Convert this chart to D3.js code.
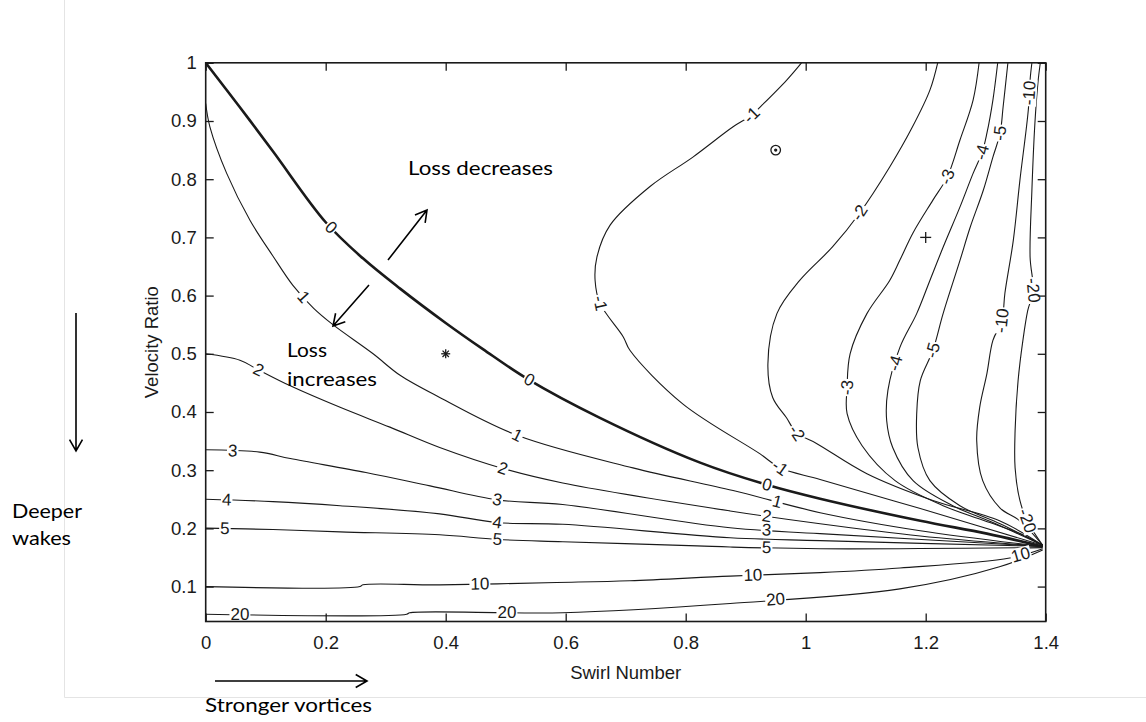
<!DOCTYPE html>
<html>
<head>
<meta charset="utf-8">
<script src="https://cdn.jsdelivr.net/npm/d3@7"></script>
<style>
  body { margin: 0; background: #fff; }
  svg { display: block; }
</style>
</head>
<body>
<svg id="chart" width="1146" height="722"></svg>
<script>
// ---- axis ticks ----
const xTicks = [0, 0.2, 0.4, 0.6, 0.8, 1, 1.2, 1.4];
const xTickLabels = ["0", "0.2", "0.4", "0.6", "0.8", "1", "1.2", "1.4"];
const yTicks = [0.1, 0.2, 0.3, 0.4, 0.5, 0.6, 0.7, 0.8, 0.9, 1];
const yTickLabels = ["0.1", "0.2", "0.3", "0.4", "0.5", "0.6", "0.7", "0.8", "0.9", "1"];

// ---- contour lines: [swirl number, velocity ratio] ----
const lossM20 = [[1.391,1.000],[1.387,0.965],[1.382,0.896],[1.377,0.781],[1.374,0.666],[1.379,0.609],[1.370,0.574],[1.362,0.523],[1.354,0.454],[1.349,0.368],[1.349,0.304],[1.357,0.248],[1.369,0.213],[1.395,0.171]];
const lossM10 = [[1.377,1.000],[1.374,0.971],[1.371,0.919],[1.357,0.798],[1.346,0.695],[1.332,0.604],[1.327,0.557],[1.312,0.523],[1.302,0.466],[1.290,0.408],[1.285,0.351],[1.295,0.282],[1.324,0.235],[1.357,0.213],[1.395,0.171]];
const lossM5 = [[1.337,1.000],[1.329,0.924],[1.324,0.879],[1.312,0.838],[1.296,0.781],[1.274,0.717],[1.257,0.660],[1.229,0.569],[1.212,0.506],[1.191,0.454],[1.185,0.397],[1.187,0.339],[1.207,0.282],[1.257,0.239],[1.324,0.208],[1.395,0.171]];
const lossM4 = [[1.320,1.000],[1.312,0.936],[1.302,0.879],[1.294,0.846],[1.279,0.810],[1.257,0.752],[1.229,0.683],[1.207,0.626],[1.185,0.569],[1.157,0.511],[1.137,0.437],[1.135,0.385],[1.145,0.339],[1.179,0.282],[1.245,0.239],[1.312,0.210],[1.395,0.171]];
const lossM3 = [[1.289,1.000],[1.279,0.936],[1.257,0.867],[1.236,0.804],[1.212,0.764],[1.179,0.708],[1.157,0.661],[1.140,0.626],[1.102,0.569],[1.074,0.500],[1.069,0.442],[1.069,0.397],[1.094,0.342],[1.149,0.282],[1.229,0.239],[1.307,0.210],[1.357,0.191],[1.395,0.171]];
const lossM2 = [[1.220,1.000],[1.207,0.953],[1.178,0.890],[1.140,0.821],[1.090,0.742],[1.045,0.684],[0.990,0.626],[0.952,0.569],[0.937,0.483],[0.945,0.425],[0.968,0.390],[0.985,0.364],[1.018,0.346],[1.102,0.294],[1.212,0.248],[1.323,0.213],[1.395,0.171]];
const lossM1 = [[0.993,1.000],[0.968,0.970],[0.924,0.924],[0.910,0.910],[0.879,0.890],[0.812,0.838],[0.740,0.787],[0.674,0.721],[0.652,0.666],[0.649,0.626],[0.657,0.587],[0.696,0.529],[0.707,0.506],[0.795,0.414],[0.924,0.328],[0.957,0.304],[1.024,0.284],[1.191,0.234],[1.395,0.171]];
const loss0 = [[0.000,1.000],[0.056,0.925],[0.112,0.848],[0.200,0.726],[0.262,0.664],[0.324,0.612],[0.400,0.553],[0.462,0.508],[0.536,0.457],[0.657,0.390],[0.824,0.313],[0.935,0.275],[1.024,0.251],[1.191,0.213],[1.302,0.191],[1.395,0.169]];
const loss1 = [[0.000,0.930],[0.007,0.890],[0.035,0.810],[0.074,0.729],[0.112,0.668],[0.145,0.618],[0.180,0.578],[0.212,0.550],[0.279,0.500],[0.324,0.463],[0.390,0.425],[0.519,0.360],[0.712,0.304],[0.879,0.265],[1.024,0.227],[1.191,0.196],[1.395,0.169]];
const loss2 = [[0.000,0.500],[0.057,0.489],[0.085,0.474],[0.141,0.445],[0.224,0.408],[0.307,0.374],[0.390,0.339],[0.495,0.303],[0.595,0.278],[0.874,0.230],[1.024,0.208],[1.191,0.187],[1.395,0.169]];
const loss3 = [[0.000,0.335],[0.090,0.331],[0.141,0.320],[0.267,0.296],[0.374,0.273],[0.486,0.249],[0.595,0.241],[0.874,0.201],[1.024,0.191],[1.395,0.169]];
const loss4 = [[0.000,0.250],[0.112,0.246],[0.224,0.239],[0.390,0.225],[0.486,0.210],[0.595,0.207],[0.874,0.184],[1.024,0.179],[1.395,0.169]];
const loss5 = [[0.000,0.2005],[0.112,0.198],[0.224,0.194],[0.390,0.189],[0.486,0.181],[0.595,0.177],[0.819,0.170],[0.874,0.168],[1.024,0.165],[1.395,0.167]];
const loss10 = [[0.000,0.100],[0.257,0.100],[0.262,0.103],[0.390,0.103],[0.585,0.107],[0.707,0.110],[0.874,0.118],[1.024,0.124],[1.157,0.132],[1.340,0.149],[1.395,0.165]];
const loss20 = [[0.000,0.0525],[0.335,0.0525],[0.340,0.055],[0.595,0.055],[0.874,0.071],[1.157,0.096],[1.323,0.134],[1.395,0.163]];

// ---- contour label anchors: [swirl number, velocity ratio] ----
const labelsM20 = [[1.379,0.609],[1.369,0.213]];
const labelsM10 = [[1.374,0.948],[1.327,0.557]];
const labelsM5 = [[1.324,0.879],[1.212,0.506]];
const labelsM4 = [[1.294,0.846],[1.152,0.483]];
const labelsM3 = [[1.236,0.804],[1.069,0.442]];
const labelsM2 = [[1.090,0.742],[0.985,0.364]];
const labelsM1 = [[0.910,0.910],[0.657,0.587],[0.957,0.304]];
const labels0 = [[0.208,0.716],[0.536,0.449],[0.935,0.273]];
const labels1 = [[0.157,0.592],[0.519,0.360],[0.949,0.232]];
const labels2 = [[0.085,0.466],[0.495,0.303],[0.935,0.222]];
const labels3 = [[0.045,0.333],[0.486,0.249],[0.935,0.199]];
const labels4 = [[0.035,0.248],[0.486,0.210]];
const labels5 = [[0.032,0.199],[0.486,0.181],[0.935,0.167]];
const labels10 = [[0.457,0.102],[0.912,0.119],[1.359,0.152]];
const labels20 = [[0.057,0.0525],[0.502,0.055],[0.950,0.076]];

const contourSet = [
  { level: -20, pts: lossM20, labels: labelsM20 },
  { level: -10, pts: lossM10, labels: labelsM10 },
  { level: -5, pts: lossM5, labels: labelsM5 },
  { level: -4, pts: lossM4, labels: labelsM4 },
  { level: -3, pts: lossM3, labels: labelsM3 },
  { level: -2, pts: lossM2, labels: labelsM2 },
  { level: -1, pts: lossM1, labels: labelsM1 },
  { level: 0, pts: loss0, labels: labels0 },
  { level: 1, pts: loss1, labels: labels1 },
  { level: 2, pts: loss2, labels: labels2 },
  { level: 3, pts: loss3, labels: labels3 },
  { level: 4, pts: loss4, labels: labels4 },
  { level: 5, pts: loss5, labels: labels5 },
  { level: 10, pts: loss10, labels: labels10 },
  { level: 20, pts: loss20, labels: labels20 }
];

// ---- marked design points ----
const markerPoints = [
  { s: 0.40, v: 0.50, kind: "star" },
  { s: 0.95, v: 0.85, kind: "circle" },
  { s: 1.20, v: 0.70, kind: "plus" }
];

// ---- annotation texts ----
const annotationTexts = [
  { text: "Loss decreases", x: 408, y: 175, w: 145 },
  { text: "Loss", x: 287, y: 357, w: 40 },
  { text: "increases", x: 287, y: 386, w: 90 },
  { text: "Deeper", x: 12, y: 518, w: 70 },
  { text: "wakes", x: 12, y: 545, w: 59 },
  { text: "Stronger vortices", x: 205, y: 712, w: 167 }
];
const annotationArrows = [
  { x1: 388, y1: 260, x2: 427, y2: 210 },
  { x1: 369, y1: 285, x2: 333, y2: 326 },
  { x1: 76, y1: 313, x2: 76, y2: 451 },
  { x1: 215, y1: 681, x2: 367, y2: 681 }
];

const svg = d3.select("#chart");
const W = 1146, H = 722;
const plot = { left: 205.7, right: 1045.7, top: 62.8, bottom: 621.5 };

const x = d3.scaleLinear().domain([0, 1.4]).range([plot.left, plot.right]);
const y = d3.scaleLinear().domain([0.04, 1]).range([plot.bottom, plot.top]);

svg.append("rect").attr("width", W).attr("height", H).attr("fill", "#fff");

// faint frame of the surrounding figure
svg.append("line").attr("x1", 64.5).attr("x2", 64.5).attr("y1", 0).attr("y2", 697.5)
  .attr("stroke", "#e4e4e4").attr("stroke-width", 1);
svg.append("line").attr("x1", 64.5).attr("x2", W).attr("y1", 697.5).attr("y2", 697.5)
  .attr("stroke", "#e4e4e4").attr("stroke-width", 1);

const axisFont = "'Liberation Sans', Arial, Helvetica, sans-serif";
const noteFont = "Lato, 'Open Sans', sans-serif";

// clip for contour lines
svg.append("clipPath").attr("id", "plotClip")
  .append("rect")
  .attr("x", plot.left).attr("y", plot.top)
  .attr("width", plot.right - plot.left).attr("height", plot.bottom - plot.top);

const lineGen = d3.line()
  .x(d => x(d[0]))
  .y(d => y(d[1]))
  .curve(d3.curveCatmullRom.alpha(0.5));

const gContours = svg.append("g").attr("clip-path", "url(#plotClip)");
gContours.selectAll("path")
  .data(contourSet)
  .join("path")
  .attr("d", d => lineGen(d.pts))
  .attr("fill", "none")
  .attr("stroke", "#1a1a1a")
  .attr("stroke-width", d => d.level === 0 ? 2.6 : 1.1)
  .attr("stroke-linejoin", "round");

// contour labels, placed along the nearest segment of their line
function placeOnLine(pts, anchor) {
  const px = pts.map(p => [x(p[0]), y(p[1])]);
  const ax = x(anchor[0]), ay = y(anchor[1]);
  let best = null;
  for (let i = 0; i < px.length - 1; i++) {
    const [x1, y1] = px[i], [x2, y2] = px[i + 1];
    const dx = x2 - x1, dy = y2 - y1;
    const L2 = dx * dx + dy * dy || 1;
    let t = ((ax - x1) * dx + (ay - y1) * dy) / L2;
    t = Math.max(0, Math.min(1, t));
    const qx = x1 + t * dx, qy = y1 + t * dy;
    const dist = Math.hypot(ax - qx, ay - qy);
    if (!best || dist < best.dist) {
      let ang = Math.atan2(dy, dx) * 180 / Math.PI;
      if (ang > 90) ang -= 180;
      if (ang < -90) ang += 180;
      best = { x: qx, y: qy, ang, dist };
    }
  }
  return best;
}

const labelData = [];
contourSet.forEach(c => {
  c.labels.forEach(a => {
    const p = placeOnLine(c.pts, a);
    labelData.push({ text: String(c.level), x: p.x, y: p.y, ang: p.ang });
  });
});

const gLabels = svg.append("g");
labelData.forEach(d => {
  const g = gLabels.append("g")
    .attr("transform", `translate(${d.x},${d.y}) rotate(${d.ang})`);
  const t = g.append("text")
    .attr("text-anchor", "middle")
    .attr("dominant-baseline", "central")
    .attr("font-family", axisFont)
    .attr("font-size", 17)
    .attr("fill", "#1a1a1a")
    .text(d.text);
  const bb = t.node().getBBox();
  g.insert("rect", "text")
    .attr("x", bb.x - 1).attr("y", bb.y + 2)
    .attr("width", bb.width + 2).attr("height", bb.height - 4)
    .attr("fill", "#fff");
});

// markers
const gMarks = svg.append("g").attr("stroke", "#1a1a1a").attr("fill", "none").attr("stroke-width", 1.3);
markerPoints.forEach(m => {
  const cx = x(m.s), cy = y(m.v);
  if (m.kind === "star") {
    const r = 4.5;
    [0, 45, 90, 135].forEach(a => {
      const rad = a * Math.PI / 180;
      gMarks.append("line")
        .attr("x1", cx - r * Math.cos(rad)).attr("y1", cy - r * Math.sin(rad))
        .attr("x2", cx + r * Math.cos(rad)).attr("y2", cy + r * Math.sin(rad));
    });
  } else if (m.kind === "circle") {
    gMarks.append("circle").attr("cx", cx).attr("cy", cy).attr("r", 4.8);
    gMarks.append("circle").attr("cx", cx).attr("cy", cy).attr("r", 1).attr("fill", "#1a1a1a");
  } else {
    const r = 5.5;
    gMarks.append("line").attr("x1", cx - r).attr("x2", cx + r).attr("y1", cy).attr("y2", cy);
    gMarks.append("line").attr("x1", cx).attr("x2", cx).attr("y1", cy - r).attr("y2", cy + r);
  }
});

// axes: inward ticks on all four sides, box frame
const axisColor = "#1a1a1a";
function styleAxis(g) {
  g.select(".domain").remove();
  g.selectAll(".tick line").attr("stroke", axisColor).attr("stroke-width", 1.3);
  g.selectAll(".tick text").attr("fill", "#1a1a1a")
    .attr("font-family", axisFont).attr("font-size", 18.5);
}

svg.append("g")
  .attr("transform", `translate(0,${plot.bottom})`)
  .call(d3.axisBottom(x).tickValues(xTicks).tickSize(-8).tickPadding(14)
    .tickFormat((d, i) => xTickLabels[i]))
  .call(styleAxis);

svg.append("g")
  .attr("transform", `translate(0,${plot.top})`)
  .call(d3.axisTop(x).tickValues(xTicks).tickSize(-8).tickFormat(""))
  .call(styleAxis);

svg.append("g")
  .attr("transform", `translate(${plot.left},0)`)
  .call(d3.axisLeft(y).tickValues(yTicks).tickSize(-8).tickPadding(9)
    .tickFormat((d, i) => yTickLabels[i]))
  .call(styleAxis);

svg.append("g")
  .attr("transform", `translate(${plot.right},0)`)
  .call(d3.axisRight(y).tickValues(yTicks).tickSize(-8).tickFormat(""))
  .call(styleAxis);

svg.append("rect")
  .attr("x", plot.left).attr("y", plot.top)
  .attr("width", plot.right - plot.left).attr("height", plot.bottom - plot.top)
  .attr("fill", "none").attr("stroke", axisColor).attr("stroke-width", 1.6);

// axis titles
svg.append("text")
  .attr("x", (plot.left + plot.right) / 2).attr("y", 679)
  .attr("text-anchor", "middle")
  .attr("font-family", axisFont).attr("font-size", 18.5).attr("fill", "#1a1a1a")
  .text("Swirl Number");

svg.append("text")
  .attr("transform", `translate(158,${(plot.top + plot.bottom) / 2}) rotate(-90)`)
  .attr("text-anchor", "middle")
  .attr("font-family", axisFont).attr("font-size", 18.5).attr("fill", "#1a1a1a")
  .text("Velocity Ratio");

// annotations
const gNotes = svg.append("g");
annotationTexts.forEach(a => {
  gNotes.append("text")
    .attr("x", a.x).attr("y", a.y)
    .attr("font-family", noteFont).attr("font-size", 20)
    .attr("fill", "#000")
    .attr("textLength", a.w).attr("lengthAdjust", "spacingAndGlyphs")
    .text(a.text);
});
annotationArrows.forEach(a => {
  const ang = Math.atan2(a.y2 - a.y1, a.x2 - a.x1);
  const head = 13, spread = 0.52;
  gNotes.append("path")
    .attr("d", `M${a.x1},${a.y1}L${a.x2},${a.y2}` +
      `M${a.x2 - head * Math.cos(ang - spread)},${a.y2 - head * Math.sin(ang - spread)}` +
      `L${a.x2},${a.y2}` +
      `L${a.x2 - head * Math.cos(ang + spread)},${a.y2 - head * Math.sin(ang + spread)}`)
    .attr("fill", "none").attr("stroke", "#000").attr("stroke-width", 1.6)
    .attr("stroke-linejoin", "miter");
});
</script>
</body>
</html>
